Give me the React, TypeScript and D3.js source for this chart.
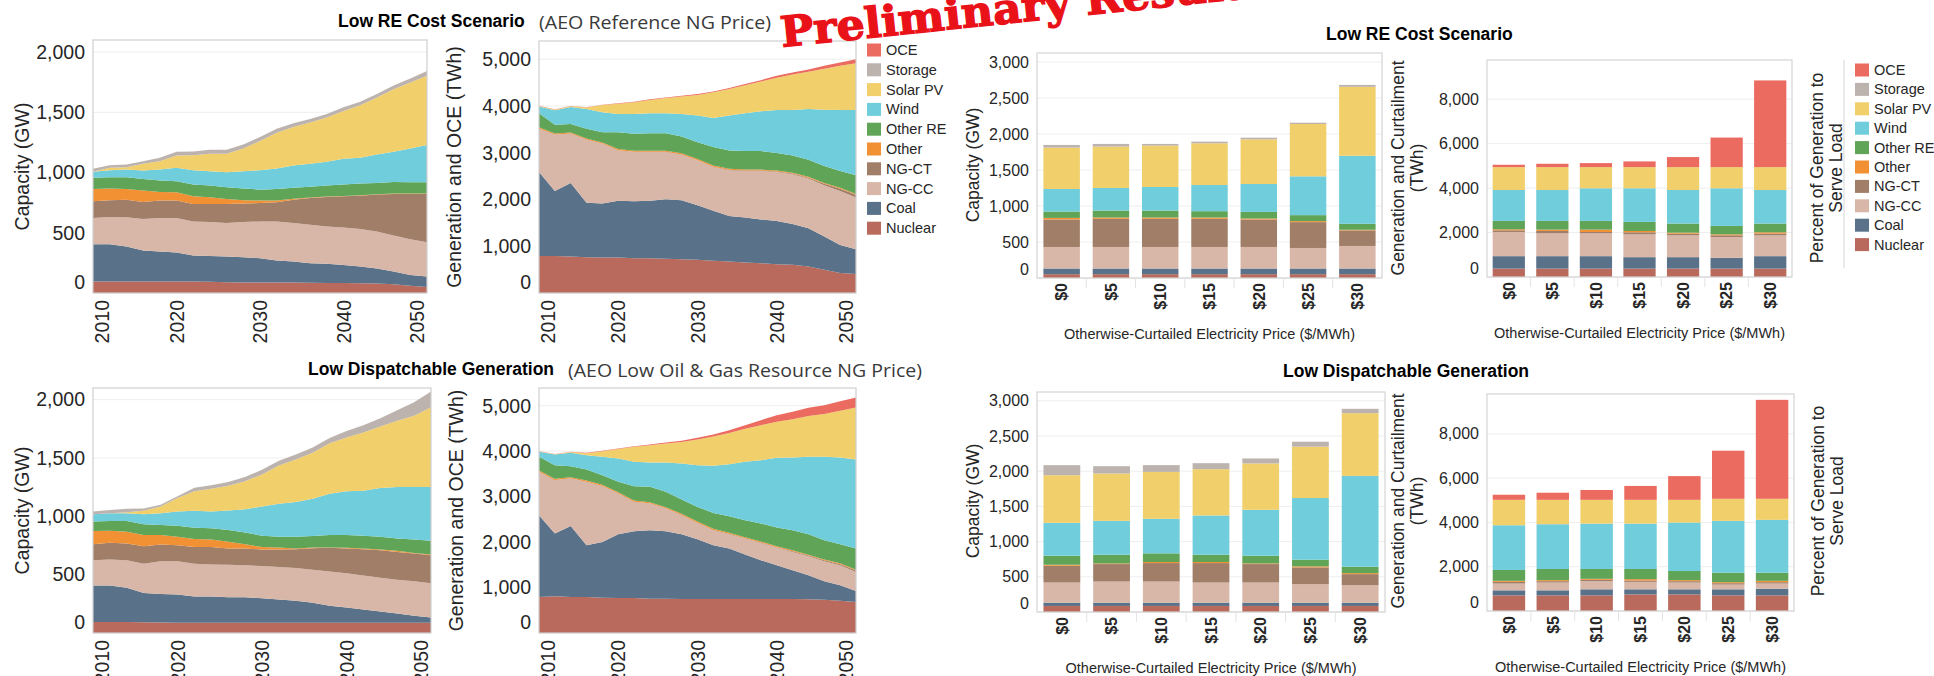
import React from "react";
import * as d3 from "d3";

const YEARS = [2010, 2012, 2014, 2016, 2018, 2020, 2022, 2024, 2026, 2028, 2030, 2032, 2034, 2036, 2038, 2040, 2042, 2044, 2046, 2048, 2050];
const YEAR_TICKS = [2010, 2020, 2030, 2040, 2050];
const PRICES = ["$0", "$5", "$10", "$15", "$20", "$25", "$30"];
const SERIES = ["Nuclear", "Coal", "NG-CC", "NG-CT", "Other", "Other RE", "Wind", "Solar PV", "Storage", "OCE"];
const LEGEND_ORDER = [...SERIES].reverse();
const COLORS: Record<string, string> = {
  OCE: "#ec6b60",
  Storage: "#bdb3ae",
  "Solar PV": "#f1cf6b",
  Wind: "#70cddb",
  "Other RE": "#60a457",
  Other: "#f29034",
  "NG-CT": "#a17e67",
  "NG-CC": "#d8b7a8",
  Coal: "#5a7289",
  Nuclear: "#b96a5c",
};
const NONE21 = YEARS.map(() => 0);
const NONE7 = PRICES.map(() => 0);

const CAP_TICKS = [0, 500, 1000, 1500, 2000];
const GEN_TICKS = [0, 1000, 2000, 3000, 4000, 5000];
const BARCAP_TICKS = [0, 500, 1000, 1500, 2000, 2500, 3000];
const BARGEN_TICKS = [0, 2000, 4000, 6000, 8000];

// ---- Low RE Cost Scenario: capacity (GW) by year
const lowReCapacity: Record<string, number[]> = {
  Nuclear: [95, 95, 95, 95, 95, 95, 95, 93, 90, 88, 88, 88, 87, 85, 84, 83, 80, 78, 72, 60, 50],
  Coal: [310, 310, 291, 258, 249, 241, 216, 215, 213, 209, 201, 181, 174, 162, 158, 150, 139, 125, 106, 90, 86],
  "NG-CC": [217, 226, 242, 261, 278, 286, 283, 281, 278, 292, 305, 325, 320, 320, 311, 311, 312, 308, 300, 297, 286],
  "NG-CT": [139, 138, 147, 142, 145, 145, 145, 150, 158, 153, 153, 159, 194, 222, 244, 259, 277, 306, 344, 375, 400],
  Other: [103, 98, 89, 94, 72, 69, 64, 55, 42, 27, 20, 14, 8, 4, 3, 3, 3, 2, 3, 3, 3],
  "Other RE": [92, 94, 97, 97, 94, 92, 97, 98, 97, 98, 91, 97, 90, 89, 92, 94, 97, 95, 97, 94, 94],
  Wind: [50, 58, 64, 70, 92, 111, 119, 119, 125, 144, 161, 169, 186, 191, 197, 214, 214, 236, 250, 281, 309],
  "Solar PV": [0, 20, 19, 55, 69, 103, 125, 145, 153, 189, 242, 298, 319, 342, 367, 397, 436, 472, 520, 547, 575],
  Storage: [25, 22, 23, 22, 28, 30, 30, 32, 32, 33, 34, 33, 30, 30, 30, 30, 30, 30, 30, 34, 40],
  OCE: NONE21,
};

// ---- Low RE Cost Scenario: generation and OCE (TWh) by year
const lowReGeneration: Record<string, number[]> = {
  Nuclear: [794, 794, 780, 766, 759, 759, 745, 745, 730, 723, 709, 688, 674, 652, 638, 617, 603, 567, 496, 426, 404],
  Coal: [1795, 1390, 1575, 1163, 1156, 1213, 1220, 1227, 1277, 1263, 1170, 1071, 971, 965, 936, 922, 872, 816, 710, 602, 532],
  "NG-CC": [922, 1199, 1049, 1348, 1276, 1078, 1049, 1042, 1007, 971, 958, 936, 979, 993, 1036, 1050, 1064, 1064, 1099, 1156, 1104],
  "NG-CT": [5, 5, 5, 5, 5, 5, 5, 5, 5, 5, 5, 5, 10, 10, 10, 10, 15, 20, 30, 45, 60],
  Other: [30, 25, 25, 25, 25, 25, 25, 25, 25, 25, 25, 25, 25, 20, 20, 20, 20, 20, 20, 20, 20],
  "Other RE": [298, 185, 183, 204, 219, 360, 360, 374, 374, 361, 360, 396, 391, 395, 395, 374, 369, 364, 361, 361, 398],
  Wind: [146, 312, 363, 426, 425, 390, 426, 426, 426, 482, 567, 624, 744, 809, 852, 922, 972, 1085, 1206, 1305, 1397],
  "Solar PV": [10, 16, 15, 30, 155, 217, 250, 284, 325, 375, 443, 547, 567, 599, 636, 690, 756, 794, 876, 944, 1000],
  Storage: NONE21,
  OCE: [5, 5, 5, 5, 8, 10, 12, 14, 15, 15, 18, 20, 22, 25, 30, 40, 45, 50, 60, 70, 85],
};

// ---- Low Dispatchable Generation: capacity (GW) by year
const lowDispCapacity: Record<string, number[]> = {
  Nuclear: [95, 95, 95, 93, 89, 88, 87, 87, 87, 87, 87, 87, 87, 87, 87, 87, 87, 87, 87, 87, 87],
  Coal: [312, 312, 292, 250, 246, 241, 225, 225, 219, 219, 210, 201, 190, 173, 147, 132, 115, 98, 80, 60, 46],
  "NG-CC": [216, 222, 236, 251, 279, 285, 282, 276, 280, 274, 277, 277, 280, 282, 294, 294, 291, 288, 289, 297, 294],
  "NG-CT": [138, 144, 144, 150, 145, 139, 144, 150, 138, 144, 141, 150, 161, 185, 202, 211, 225, 237, 239, 237, 239],
  Other: [113, 104, 101, 95, 80, 72, 67, 64, 58, 37, 23, 18, 6, 6, 3, 6, 6, 5, 9, 5, 6],
  "Other RE": [81, 83, 92, 93, 87, 95, 98, 95, 101, 101, 96, 92, 101, 98, 106, 109, 110, 110, 107, 116, 118],
  Wind: [63, 67, 67, 86, 101, 121, 144, 144, 167, 199, 251, 283, 297, 320, 355, 375, 386, 418, 441, 450, 462],
  "Solar PV": [0, 0, 9, 29, 58, 116, 167, 196, 213, 240, 274, 328, 366, 395, 433, 462, 499, 528, 568, 611, 683],
  Storage: [23, 28, 28, 20, 15, 16, 30, 30, 32, 37, 40, 40, 42, 43, 45, 55, 62, 70, 90, 115, 135],
  OCE: NONE21,
};

// ---- Low Dispatchable Generation: generation and OCE (TWh) by year
const lowDispGeneration: Record<string, number[]> = {
  Nuclear: [793, 807, 793, 793, 778, 771, 771, 756, 756, 749, 749, 749, 749, 749, 749, 749, 749, 745, 730, 710, 683],
  Coal: [1798, 1380, 1563, 1137, 1226, 1401, 1468, 1505, 1483, 1423, 1313, 1181, 1108, 976, 851, 741, 631, 525, 408, 340, 242],
  "NG-CC": [954, 1174, 1042, 1395, 1225, 896, 645, 587, 499, 419, 360, 331, 315, 352, 382, 389, 403, 418, 440, 440, 418],
  "NG-CT": [5, 5, 5, 5, 5, 5, 5, 5, 5, 5, 5, 5, 10, 10, 10, 10, 15, 15, 20, 25, 30],
  Other: [25, 25, 25, 25, 25, 25, 25, 25, 25, 25, 25, 25, 25, 20, 20, 20, 20, 20, 20, 20, 20],
  "Other RE": [300, 301, 242, 241, 213, 227, 315, 337, 337, 315, 322, 351, 362, 374, 395, 410, 443, 449, 422, 417, 464],
  Wind: [110, 235, 293, 316, 403, 514, 536, 536, 646, 792, 918, 1035, 1145, 1284, 1395, 1534, 1600, 1703, 1835, 1909, 1960],
  "Solar PV": [10, 5, 20, 43, 122, 208, 330, 378, 418, 474, 567, 645, 688, 727, 771, 795, 840, 899, 943, 1030, 1145],
  Storage: NONE21,
  OCE: [5, 5, 5, 8, 10, 12, 15, 18, 22, 26, 35, 45, 60, 80, 110, 145, 165, 180, 195, 210, 220],
};

// ---- 2050 bars by otherwise-curtailed electricity price
const lowReCapBars: Record<string, number[]> = {
  Nuclear: [53, 53, 53, 53, 53, 53, 53],
  Coal: [79, 79, 79, 79, 79, 79, 79],
  "NG-CC": [299, 299, 299, 299, 299, 285, 313],
  "NG-CT": [381, 391, 391, 391, 381, 359, 216],
  Other: [23, 18, 18, 18, 14, 14, 9],
  "Other RE": [88, 97, 97, 88, 92, 83, 83],
  Wind: [313, 313, 327, 364, 388, 539, 944],
  "Solar PV": [575, 575, 575, 579, 620, 727, 958],
  Storage: [37, 37, 23, 23, 23, 18, 27],
  OCE: NONE7,
};
const lowReGenBars: Record<string, number[]> = {
  Nuclear: [378, 378, 378, 378, 378, 378, 378],
  Coal: [559, 559, 559, 514, 514, 483, 559],
  "NG-CC": [1088, 1028, 1028, 1027, 982, 937, 937],
  "NG-CT": [75, 105, 60, 91, 75, 76, 75],
  Other: [46, 61, 106, 60, 46, 45, 61],
  "Other RE": [378, 393, 393, 408, 408, 378, 393],
  Wind: [1390, 1390, 1466, 1512, 1511, 1693, 1511],
  "Solar PV": [1028, 1028, 952, 952, 1028, 952, 1028],
  Storage: NONE7,
  OCE: [106, 151, 181, 257, 453, 1330, 3899],
};
const lowDispCapBars: Record<string, number[]> = {
  Nuclear: [86, 86, 86, 86, 86, 86, 86],
  Coal: [47, 47, 47, 47, 47, 47, 47],
  "NG-CC": [286, 300, 300, 286, 286, 262, 248],
  "NG-CT": [238, 248, 262, 276, 262, 238, 157],
  Other: [14, 9, 15, 15, 9, 15, 14],
  "Other RE": [129, 124, 123, 104, 110, 95, 91],
  Wind: [467, 481, 491, 557, 652, 876, 1290],
  "Solar PV": [676, 672, 666, 658, 658, 729, 891],
  Storage: [143, 104, 96, 85, 71, 71, 62],
  OCE: NONE7,
};
const lowDispGenBars: Record<string, number[]> = {
  Nuclear: [704, 704, 704, 750, 750, 704, 704],
  Coal: [230, 230, 276, 230, 230, 276, 306],
  "NG-CC": [306, 352, 367, 336, 306, 214, 230],
  "NG-CT": [76, 61, 61, 62, 61, 61, 61],
  Other: [46, 46, 46, 61, 46, 46, 61],
  "Other RE": [490, 505, 444, 459, 413, 429, 368],
  Wind: [2021, 2021, 2051, 2051, 2189, 2342, 2387],
  "Solar PV": [1148, 1102, 1072, 1072, 1026, 995, 950],
  Storage: NONE7,
  OCE: [229, 321, 444, 627, 1071, 2173, 4469],
};

const SANS = "'Liberation Sans', Arial, sans-serif";
const TEXT = "#262626";
const fmt = d3.format(",");

type Frame = { l: number; r: number; t: number; b: number };

function RotTitle({ x, y, lines, size }: { x: number; y: number; lines: string[]; size: number }) {
  return (
    <g>
      {lines.map((ln, i) => (
        <text
          key={i}
          transform={`translate(${x + i * size * 1.1},${y}) rotate(-90)`}
          textAnchor="middle"
          dy="0.35em"
          fontFamily={SANS}
          fontSize={size}
          fill={TEXT}
        >
          {ln}
        </text>
      ))}
    </g>
  );
}

function AreaPanel({ id, f, data, maxY, ticks, yTitle, titleX, tickSize }: any) {
  const fr: Frame = f;
  const x = d3.scaleLinear().domain([2010, 2050]).range([fr.l, fr.r]);
  const y = d3.scaleLinear().domain([0, maxY]).range([fr.b, fr.t]);
  const rows = YEARS.map((yr, i) => {
    const o: any = { year: yr };
    SERIES.forEach((s) => (o[s] = data[s][i]));
    return o;
  });
  const stacked = d3.stack<any>().keys(SERIES)(rows);
  const area = d3
    .area<any>()
    .x((d) => x(d.data.year))
    .y0((d) => y(d[0]))
    .y1((d) => y(d[1]));
  return (
    <g>
      <defs>
        <clipPath id={id}>
          <rect x={fr.l} y={fr.t} width={fr.r - fr.l} height={fr.b - fr.t} />
        </clipPath>
      </defs>
      <rect x={fr.l} y={fr.t} width={fr.r - fr.l} height={fr.b - fr.t} fill="#fff" />
      {ticks.map((t: number) => (
        <line key={t} x1={fr.l} x2={fr.r} y1={y(t)} y2={y(t)} stroke="#eeeeee" strokeWidth={1} />
      ))}
      <g clipPath={`url(#${id})`}>
        {stacked.map((s: any) => (
          <path key={s.key} d={area(s) || ""} fill={COLORS[s.key]} />
        ))}
      </g>
      <rect x={fr.l} y={fr.t} width={fr.r - fr.l} height={fr.b - fr.t} fill="none" stroke="#cfcfcf" strokeWidth={1.2} />
      {ticks.map((t: number) => (
        <text
          key={t}
          x={fr.l - 8}
          y={Math.min(y(t), fr.b - 11)}
          dy="0.35em"
          textAnchor="end"
          fontFamily={SANS}
          fontSize={tickSize}
          fill={TEXT}
        >
          {fmt(t)}
        </text>
      ))}
      {YEAR_TICKS.map((t) => {
        const cx = Math.max(fr.l + 9, Math.min(fr.r - 10, x(t)));
        return (
          <text
            key={t}
            transform={`translate(${cx},${fr.b + 7}) rotate(-90)`}
            textAnchor="end"
            dy="0.36em"
            fontFamily={SANS}
            fontSize={tickSize}
            fill={TEXT}
          >
            {t}
          </text>
        );
      })}
      <RotTitle x={titleX} y={(fr.t + fr.b) / 2} lines={[yTitle]} size={tickSize} />
    </g>
  );
}

function BarPanel({ f, data, maxY, ticks }: any) {
  const fr: Frame = f;
  const x = d3.scaleBand<string>().domain(PRICES).range([fr.l, fr.r]).paddingInner(0.26).paddingOuter(0.13);
  const y = d3.scaleLinear().domain([0, maxY]).range([fr.b, fr.t]);
  const rows = PRICES.map((p, i) => {
    const o: any = { price: p };
    SERIES.forEach((s) => (o[s] = data[s][i]));
    return o;
  });
  const stacked = d3.stack<any>().keys(SERIES)(rows);
  const step = x.step();
  return (
    <g>
      <rect x={fr.l} y={fr.t} width={fr.r - fr.l} height={fr.b - fr.t} fill="#fff" />
      {ticks.map((t: number) => (
        <line key={t} x1={fr.l} x2={fr.r} y1={y(t)} y2={y(t)} stroke="#eeeeee" strokeWidth={1} />
      ))}
      {stacked.map((s: any) => (
        <g key={s.key} fill={COLORS[s.key]}>
          {s.map((d: any, i: number) =>
            d[1] - d[0] > 0 ? (
              <rect
                key={i}
                x={x(d.data.price)}
                y={y(d[1])}
                width={x.bandwidth()}
                height={y(d[0]) - y(d[1])}
              />
            ) : null
          )}
        </g>
      ))}
      <rect x={fr.l} y={fr.t} width={fr.r - fr.l} height={fr.b - fr.t} fill="none" stroke="#d4d4d4" strokeWidth={1.2} />
      {PRICES.slice(1).map((p, i) => (
        <line
          key={p}
          x1={fr.l + (i + 1) * step}
          x2={fr.l + (i + 1) * step}
          y1={fr.b}
          y2={fr.b + 10}
          stroke="#e3e3e3"
          strokeWidth={1}
        />
      ))}
      {ticks.map((t: number) => (
        <text
          key={t}
          x={fr.l - 8}
          y={Math.min(y(t), fr.b - 9)}
          dy="0.35em"
          textAnchor="end"
          fontFamily={SANS}
          fontSize={16}
          fill={TEXT}
        >
          {fmt(t)}
        </text>
      ))}
      {PRICES.map((p) => (
        <text
          key={p}
          transform={`translate(${(x(p) || 0) + x.bandwidth() / 2},${fr.b + 5}) rotate(-90)`}
          textAnchor="end"
          dy="0.36em"
          fontFamily={SANS}
          fontSize={16}
          fontWeight="bold"
          fill={TEXT}
        >
          {p}
        </text>
      ))}
      <text
        x={(fr.l + fr.r) / 2}
        y={fr.b + 61}
        textAnchor="middle"
        fontFamily={SANS}
        fontSize={15.5}
        textLength={291}
        lengthAdjust="spacingAndGlyphs"
        fill={TEXT}
      >
        Otherwise-Curtailed Electricity Price ($/MWh)
      </text>
    </g>
  );
}

function Legend({ x, y, gap }: { x: number; y: number; gap: number }) {
  return (
    <g>
      {LEGEND_ORDER.map((s, i) => (
        <g key={s} transform={`translate(${x},${y + i * gap})`}>
          <rect x={0} y={-6.5} width={14} height={13} fill={COLORS[s]} />
          <text x={19} y={0} dy="0.35em" fontFamily={SANS} fontSize={14.5} fill={TEXT}>
            {s}
          </text>
        </g>
      ))}
    </g>
  );
}

function Title({ x, y, bold, sub, subX, subW }: any) {
  return (
    <g>
      <text x={x} y={y} fontFamily={SANS} fontWeight="bold" fontSize={17.5} fill="#000">
        {bold}
      </text>
      {sub ? (
        <text
          x={subX}
          y={y + 2}
          fontFamily="'Open Sans', 'Noto Sans', sans-serif"
          fontSize={19}
          fill="#3a3a3a"
          textLength={subW}
          lengthAdjust="spacingAndGlyphs"
        >
          {sub}
        </text>
      ) : null}
    </g>
  );
}

export default function App() {
  return (
    <svg
      width={1934}
      height={676}
      style={{ position: "absolute", left: 0, top: 0, background: "#fff" }}
      xmlns="http://www.w3.org/2000/svg"
    >
      <rect x={0} y={0} width={1934} height={676} fill="#fff" />

      {/* Top row */}
      <Title x={338} y={27} bold="Low RE Cost Scenario" sub="(AEO Reference NG Price)" subX={539} subW={232} />
      <AreaPanel id="c1" f={{ l: 93, r: 427, t: 40, b: 293 }} data={lowReCapacity} maxY={2100} ticks={CAP_TICKS} yTitle="Capacity (GW)" titleX={22} tickSize={19.5} />
      <AreaPanel id="c2" f={{ l: 539, r: 856, t: 41, b: 293 }} data={lowReGeneration} maxY={5390} ticks={GEN_TICKS} yTitle="Generation and OCE (TWh)" titleX={454} tickSize={19.5} />
      <Legend x={867} y={50} gap={19.8} />

      <Title x={1326} y={40} bold="Low RE Cost Scenario" />
      <BarPanel f={{ l: 1037, r: 1382, t: 53, b: 278 }} data={lowReCapBars} maxY={3125} ticks={BARCAP_TICKS} />
      <RotTitle x={973} y={165} lines={["Capacity (GW)"]} size={17.5} />
      <BarPanel f={{ l: 1487, r: 1792, t: 60, b: 277 }} data={lowReGenBars} maxY={9760} ticks={BARGEN_TICKS} />
      <RotTitle x={1398} y={168} lines={["Generation and Curtailment", "(TWh)"]} size={17.5} />
      <RotTitle x={1817} y={168} lines={["Percent of Generation to", "Serve Load"]} size={17.5} />
      <line x1={1844} x2={1844} y1={60} y2={268} stroke="#dddddd" strokeWidth={1.2} />
      <Legend x={1855} y={70} gap={19.4} />

      {/* Bottom row */}
      <Title x={308} y={375} bold="Low Dispatchable Generation" sub="(AEO Low Oil & Gas Resource NG Price)" subX={568} subW={354} />
      <AreaPanel id="c3" f={{ l: 93, r: 431, t: 388, b: 633 }} data={lowDispCapacity} maxY={2100} ticks={CAP_TICKS} yTitle="Capacity (GW)" titleX={22} tickSize={19.5} />
      <AreaPanel id="c4" f={{ l: 539, r: 856, t: 388, b: 633 }} data={lowDispGeneration} maxY={5390} ticks={GEN_TICKS} yTitle="Generation and OCE (TWh)" titleX={456} tickSize={19.5} />

      <Title x={1283} y={377} bold="Low Dispatchable Generation" />
      <BarPanel f={{ l: 1037, r: 1385, t: 392, b: 612 }} data={lowDispCapBars} maxY={3125} ticks={BARCAP_TICKS} />
      <RotTitle x={973} y={501} lines={["Capacity (GW)"]} size={17.5} />
      <BarPanel f={{ l: 1487, r: 1794, t: 394, b: 611 }} data={lowDispGenBars} maxY={9800} ticks={BARGEN_TICKS} />
      <RotTitle x={1398} y={501} lines={["Generation and Curtailment", "(TWh)"]} size={17.5} />
      <RotTitle x={1818} y={501} lines={["Percent of Generation to", "Serve Load"]} size={17.5} />

      {/* Stamp */}
      <text
        x={782}
        y={47}
        transform="rotate(-6 782 47)"
        fontFamily="'DejaVu Serif', serif"
        fontWeight="900"
        fontSize={42}
        fill="#ea1219"
        stroke="#ea1219"
        strokeWidth={1.4}
        textLength={490}
        lengthAdjust="spacingAndGlyphs"
      >
        Preliminary Results
      </text>
    </svg>
  );
}
